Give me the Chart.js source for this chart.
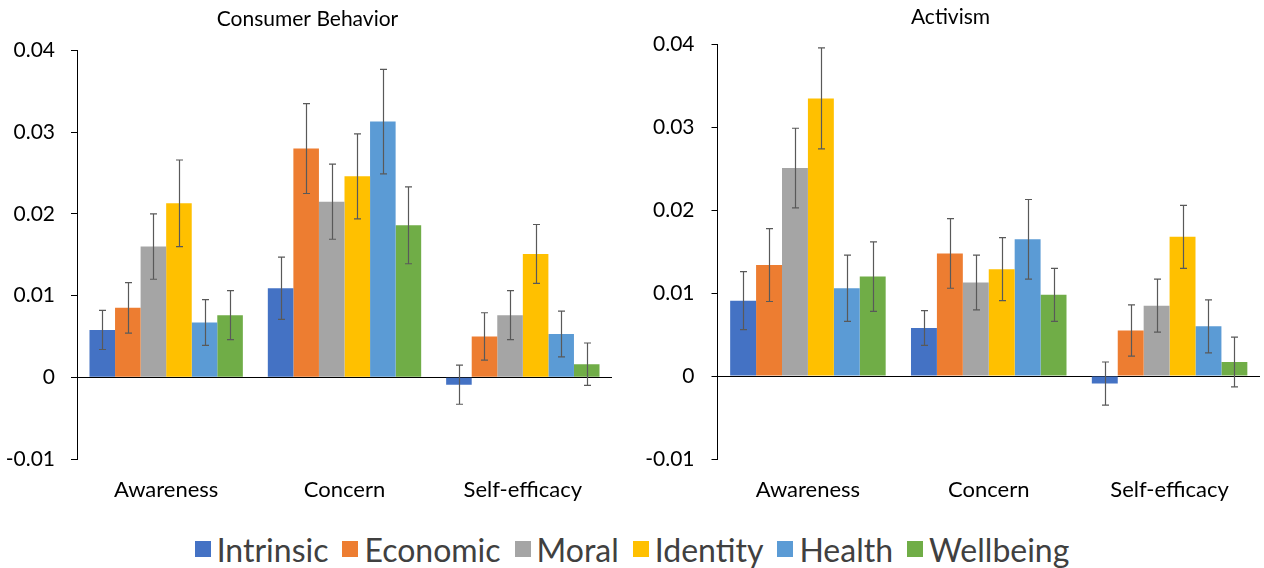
<!DOCTYPE html>
<html>
<head>
<meta charset="utf-8">
<script src="https://cdn.jsdelivr.net/npm/chart.js@4.4.1/dist/chart.umd.min.js"></script>
<style>
  body { margin: 0; background: #fff; width: 1264px; height: 568px; overflow: hidden; position: relative; font-family: Lato, "Open Sans", sans-serif; }
  .panel { position: absolute; top: 0; width: 632px; height: 520px; }
  #legend { position: absolute; left: 0; top: 530px; width: 1264px; height: 38px;
            display: flex; justify-content: center; align-items: center; }
  .item { display: flex; align-items: center; margin: 0 7px; font-size: 32px; color: #404040; }
  .box { width: 16px; height: 16px; margin-right: 6px; }
</style>
</head>
<body>
<div class="panel" style="left:0"><canvas id="consumerChart"></canvas></div>
<div class="panel" style="left:632px"><canvas id="activismChart"></canvas></div>
<div id="legend"></div>

<script>
// =========================
// DATA
// =========================

const categories = ['Awareness', 'Concern', 'Self-efficacy'];

const seriesNames = ['Intrinsic', 'Economic', 'Moral', 'Identity', 'Health', 'Wellbeing'];

const yTicks = [-0.01, 0, 0.01, 0.02, 0.03, 0.04];

// Consumer Behavior (means, then +/- error)
const cbIntrinsic = [0.0058, 0.0109, -0.0009];
const cbEconomic  = [0.0085, 0.0280, 0.0050];
const cbMoral     = [0.0160, 0.0215, 0.0076];
const cbIdentity  = [0.0213, 0.0246, 0.0151];
const cbHealth    = [0.0067, 0.0313, 0.0053];
const cbWellbeing = [0.0076, 0.0186, 0.0016];

const cbIntrinsicErr = [0.0024, 0.0038, 0.0024];
const cbEconomicErr  = [0.0031, 0.0055, 0.0029];
const cbMoralErr     = [0.0040, 0.0046, 0.0030];
const cbIdentityErr  = [0.0053, 0.0052, 0.0036];
const cbHealthErr    = [0.0028, 0.0064, 0.0028];
const cbWellbeingErr = [0.0030, 0.0047, 0.0026];

// Activism
const acIntrinsic = [0.0091, 0.0058, -0.0009];
const acEconomic  = [0.0134, 0.0148, 0.0055];
const acMoral     = [0.0251, 0.0113, 0.0085];
const acIdentity  = [0.0335, 0.0129, 0.0168];
const acHealth    = [0.0106, 0.0165, 0.0060];
const acWellbeing = [0.0120, 0.0098, 0.0017];

const acIntrinsicErr = [0.0035, 0.0021, 0.0026];
const acEconomicErr  = [0.0044, 0.0042, 0.0031];
const acMoralErr     = [0.0048, 0.0033, 0.0032];
const acIdentityErr  = [0.0061, 0.0038, 0.0038];
const acHealthErr    = [0.0040, 0.0048, 0.0032];
const acWellbeingErr = [0.0042, 0.0032, 0.0030];

const colors = ['#4472C4', '#ED7D31', '#A5A5A5', '#FFC000', '#5B9BD5', '#70AD47'];

// =========================
// ERROR BAR PLUGIN
// =========================

const errorBars = {
    id: 'errorBars',
    afterDatasetsDraw(chart) {
        const ctx = chart.ctx;
        const yScale = chart.scales.y;
        ctx.save();
        ctx.strokeStyle = '#595959';
        ctx.lineWidth = 1.2;
        chart.data.datasets.forEach((ds, i) => {
            const meta = chart.getDatasetMeta(i);
            meta.data.forEach((bar, j) => {
                const v = ds.data[j];
                const e = ds.errors[j];
                const top = yScale.getPixelForValue(v + e);
                const bot = yScale.getPixelForValue(v - e);
                const x = Math.round(bar.x) + 0.5;
                ctx.beginPath();
                ctx.moveTo(x, top);
                ctx.lineTo(x, bot);
                ctx.moveTo(x - 3.5, top);
                ctx.lineTo(x + 3.5, top);
                ctx.moveTo(x - 3.5, bot);
                ctx.lineTo(x + 3.5, bot);
                ctx.stroke();
            });
        });
        ctx.restore();
    }
};

// =========================
// BUILD CHART
// =========================

function buildChart(id, titleText, values, errors, box) {

    const datasets = seriesNames.map((name, i) => ({
        label: name,
        data: values[i],
        errors: errors[i],
        backgroundColor: colors[i],
        borderWidth: 0,
        barPercentage: 1.0,
        categoryPercentage: 0.86
    }));

    return new Chart(document.getElementById(id), {
        type: 'bar',
        data: { labels: categories, datasets: datasets },
        plugins: [errorBars],
        options: {
            responsive: true,
            maintainAspectRatio: false,
            animation: false,
            devicePixelRatio: 1,
            layout: { padding: { left: box.padLeft, right: box.padRight, top: 0, bottom: 0 } },
            plugins: {
                legend: { display: false },
                tooltip: { enabled: false },
                title: {
                    display: true,
                    text: titleText,
                    color: '#000',
                    font: { family: 'Lato', size: 21, weight: 'normal' },
                    padding: { top: box.titleTop, bottom: box.titleBottom }
                }
            },
            scales: {
                x: {
                    grid: { display: false, drawTicks: false },
                    border: { display: false },
                    ticks: { color: '#000', font: { family: 'Lato', size: 22 }, padding: 18 },
                    afterFit(scale) { scale.height = box.xHeight; }
                },
                y: {
                    min: yTicks[0],
                    max: yTicks[yTicks.length - 1],
                    afterBuildTicks(scale) { scale.ticks = yTicks.map(v => ({ value: v })); },
                    border: { display: true, color: '#000', width: 1 },
                    grid: {
                        drawOnChartArea: true,
                        color: c => (c.tick && c.tick.value === 0) ? '#000' : 'rgba(0,0,0,0)',
                        lineWidth: 1,
                        tickColor: '#000',
                        tickLength: 6
                    },
                    ticks: {
                        color: '#000',
                        font: { family: 'Lato', size: 21 },
                        padding: box.tickPad,
                        callback: v => String(Math.round(v * 100) / 100)
                    },
                    afterFit(scale) { scale.width = box.yWidth; }
                }
            }
        }
    });
}

buildChart('consumerChart', 'Consumer Behavior',
    [cbIntrinsic, cbEconomic, cbMoral, cbIdentity, cbHealth, cbWellbeing],
    [cbIntrinsicErr, cbEconomicErr, cbMoralErr, cbIdentityErr, cbHealthErr, cbWellbeingErr],
    { padLeft: 3, padRight: 20, yWidth: 74, tickPad: 16, titleTop: 7, titleBottom: 18.3, xHeight: 61 });

buildChart('activismChart', 'Activism',
    [acIntrinsic, acEconomic, acMoral, acIdentity, acHealth, acWellbeing],
    [acIntrinsicErr, acEconomicErr, acMoralErr, acIdentityErr, acHealthErr, acWellbeingErr],
    { padLeft: 9, padRight: 4, yWidth: 76.5, tickPad: 17, titleTop: 4.2, titleBottom: 15.1, xHeight: 61 });

// =========================
// LEGEND
// =========================

const legend = document.getElementById('legend');

seriesNames.forEach((name, i) => {
    const item = document.createElement('div');
    item.className = 'item';
    const sw = document.createElement('span');
    sw.className = 'box';
    sw.style.background = colors[i];
    const label = document.createElement('span');
    label.textContent = name;
    item.appendChild(sw);
    item.appendChild(label);
    legend.appendChild(item);
});
</script>
</body>
</html>
